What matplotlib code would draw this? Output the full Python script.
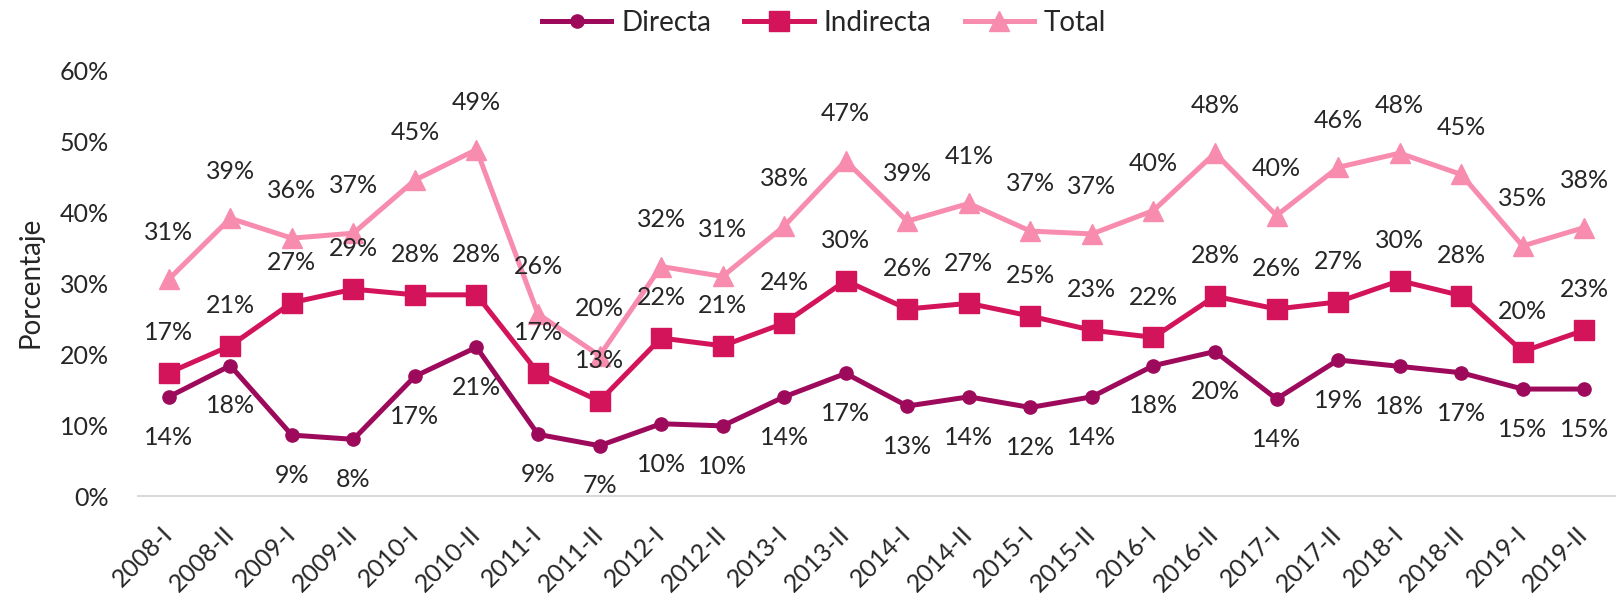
import matplotlib
matplotlib.use("Agg")
import matplotlib.pyplot as plt
from matplotlib.ticker import PercentFormatter

plt.rcParams['font.family'] = ['Lato', 'DejaVu Sans']

# periodos
periodos = ["2008-I", "2008-II", "2009-I", "2009-II", "2010-I", "2010-II",
            "2011-I", "2011-II", "2012-I", "2012-II", "2013-I", "2013-II",
            "2014-I", "2014-II", "2015-I", "2015-II", "2016-I", "2016-II",
            "2017-I", "2017-II", "2018-I", "2018-II", "2019-I", "2019-II"]

# porcentajes (%)
directa = [14.0, 18.4, 8.6, 8.0, 16.9, 21.0, 8.7, 7.1, 10.2, 9.9, 14.0, 17.3,
           12.7, 14.0, 12.5, 14.0, 18.4, 20.4, 13.7, 19.2, 18.3, 17.4, 15.1, 15.1]
indirecta = [17.4, 21.2, 27.3, 29.2, 28.4, 28.4, 17.4, 13.4, 22.3, 21.2, 24.4, 30.4,
             26.4, 27.2, 25.4, 23.4, 22.4, 28.2, 26.4, 27.4, 30.4, 28.3, 20.4, 23.4]
total = [30.6, 39.2, 36.4, 37.1, 44.6, 48.9, 25.7, 19.8, 32.4, 31.0, 38.1, 47.3,
         38.8, 41.3, 37.4, 37.0, 40.3, 48.4, 39.6, 46.4, 48.4, 45.4, 35.3, 37.9]

c_dir = "#9E0A5B"
c_ind = "#D4145A"
c_tot = "#F78CAF"
txt = "#262626"
fs = 18

fig = plt.figure(figsize=(16.2, 5.97), dpi=100)
ax = fig.add_axes([138 / 1620, 101 / 597, 1477 / 1620, 425 / 597])

x = list(range(len(periodos)))
ax.plot(x, total, color=c_tot, lw=3.6, marker="^", ms=14, label="Total", zorder=3)
ax.plot(x, indirecta, color=c_ind, lw=3.6, marker="s", ms=15, label="Indirecta", zorder=4)
ax.plot(x, directa, color=c_dir, lw=3.6, marker="o", ms=9.5, label="Directa", zorder=5)

# etiquetas de datos
for i in x:
    ax.annotate(f"{round(directa[i])}%", (i, directa[i]), xytext=(0, -29),
                textcoords="offset points", ha="center", va="center",
                fontsize=fs, color=txt)
    ax.annotate(f"{round(indirecta[i])}%", (i, indirecta[i]), xytext=(0, 29),
                textcoords="offset points", ha="center", va="center",
                fontsize=fs, color=txt)
    ax.annotate(f"{round(total[i])}%", (i, total[i]), xytext=(0, 34),
                textcoords="offset points", ha="center", va="center",
                fontsize=fs, color=txt)

ax.set_xlim(-0.5, len(periodos) - 0.5)
ax.set_ylim(0, 60)
ax.set_yticks(range(0, 61, 10))
ax.yaxis.set_major_formatter(PercentFormatter(decimals=0))
ax.set_xticks(x)
ax.set_xticklabels(periodos, rotation=45, ha="right", va="center",
                   rotation_mode="anchor")
ax.tick_params(axis="x", length=0, pad=25, labelsize=fs, labelcolor=txt)
ax.tick_params(axis="y", length=0, pad=21, labelsize=fs, labelcolor=txt)

for s in ["top", "right", "left"]:
    ax.spines[s].set_visible(False)
ax.spines["bottom"].set_color("#D9D9D9")
ax.spines["bottom"].set_linewidth(1.5)

fig.text(30 / 1620, 1 - 282 / 597, "Porcentaje", rotation=90, ha="center",
         va="center", fontsize=20, color=txt)

h, l = ax.get_legend_handles_labels()
order = [2, 1, 0]
fig.legend([h[k] for k in order], [l[k] for k in order], loc="center",
           bbox_to_anchor=(824 / 1620, 1 - 23 / 597), ncol=3, frameon=False,
           fontsize=20, handlelength=2.5, handletextpad=0.35, columnspacing=1.2,
           labelcolor=txt)

fig.savefig("out.png", dpi=100)
